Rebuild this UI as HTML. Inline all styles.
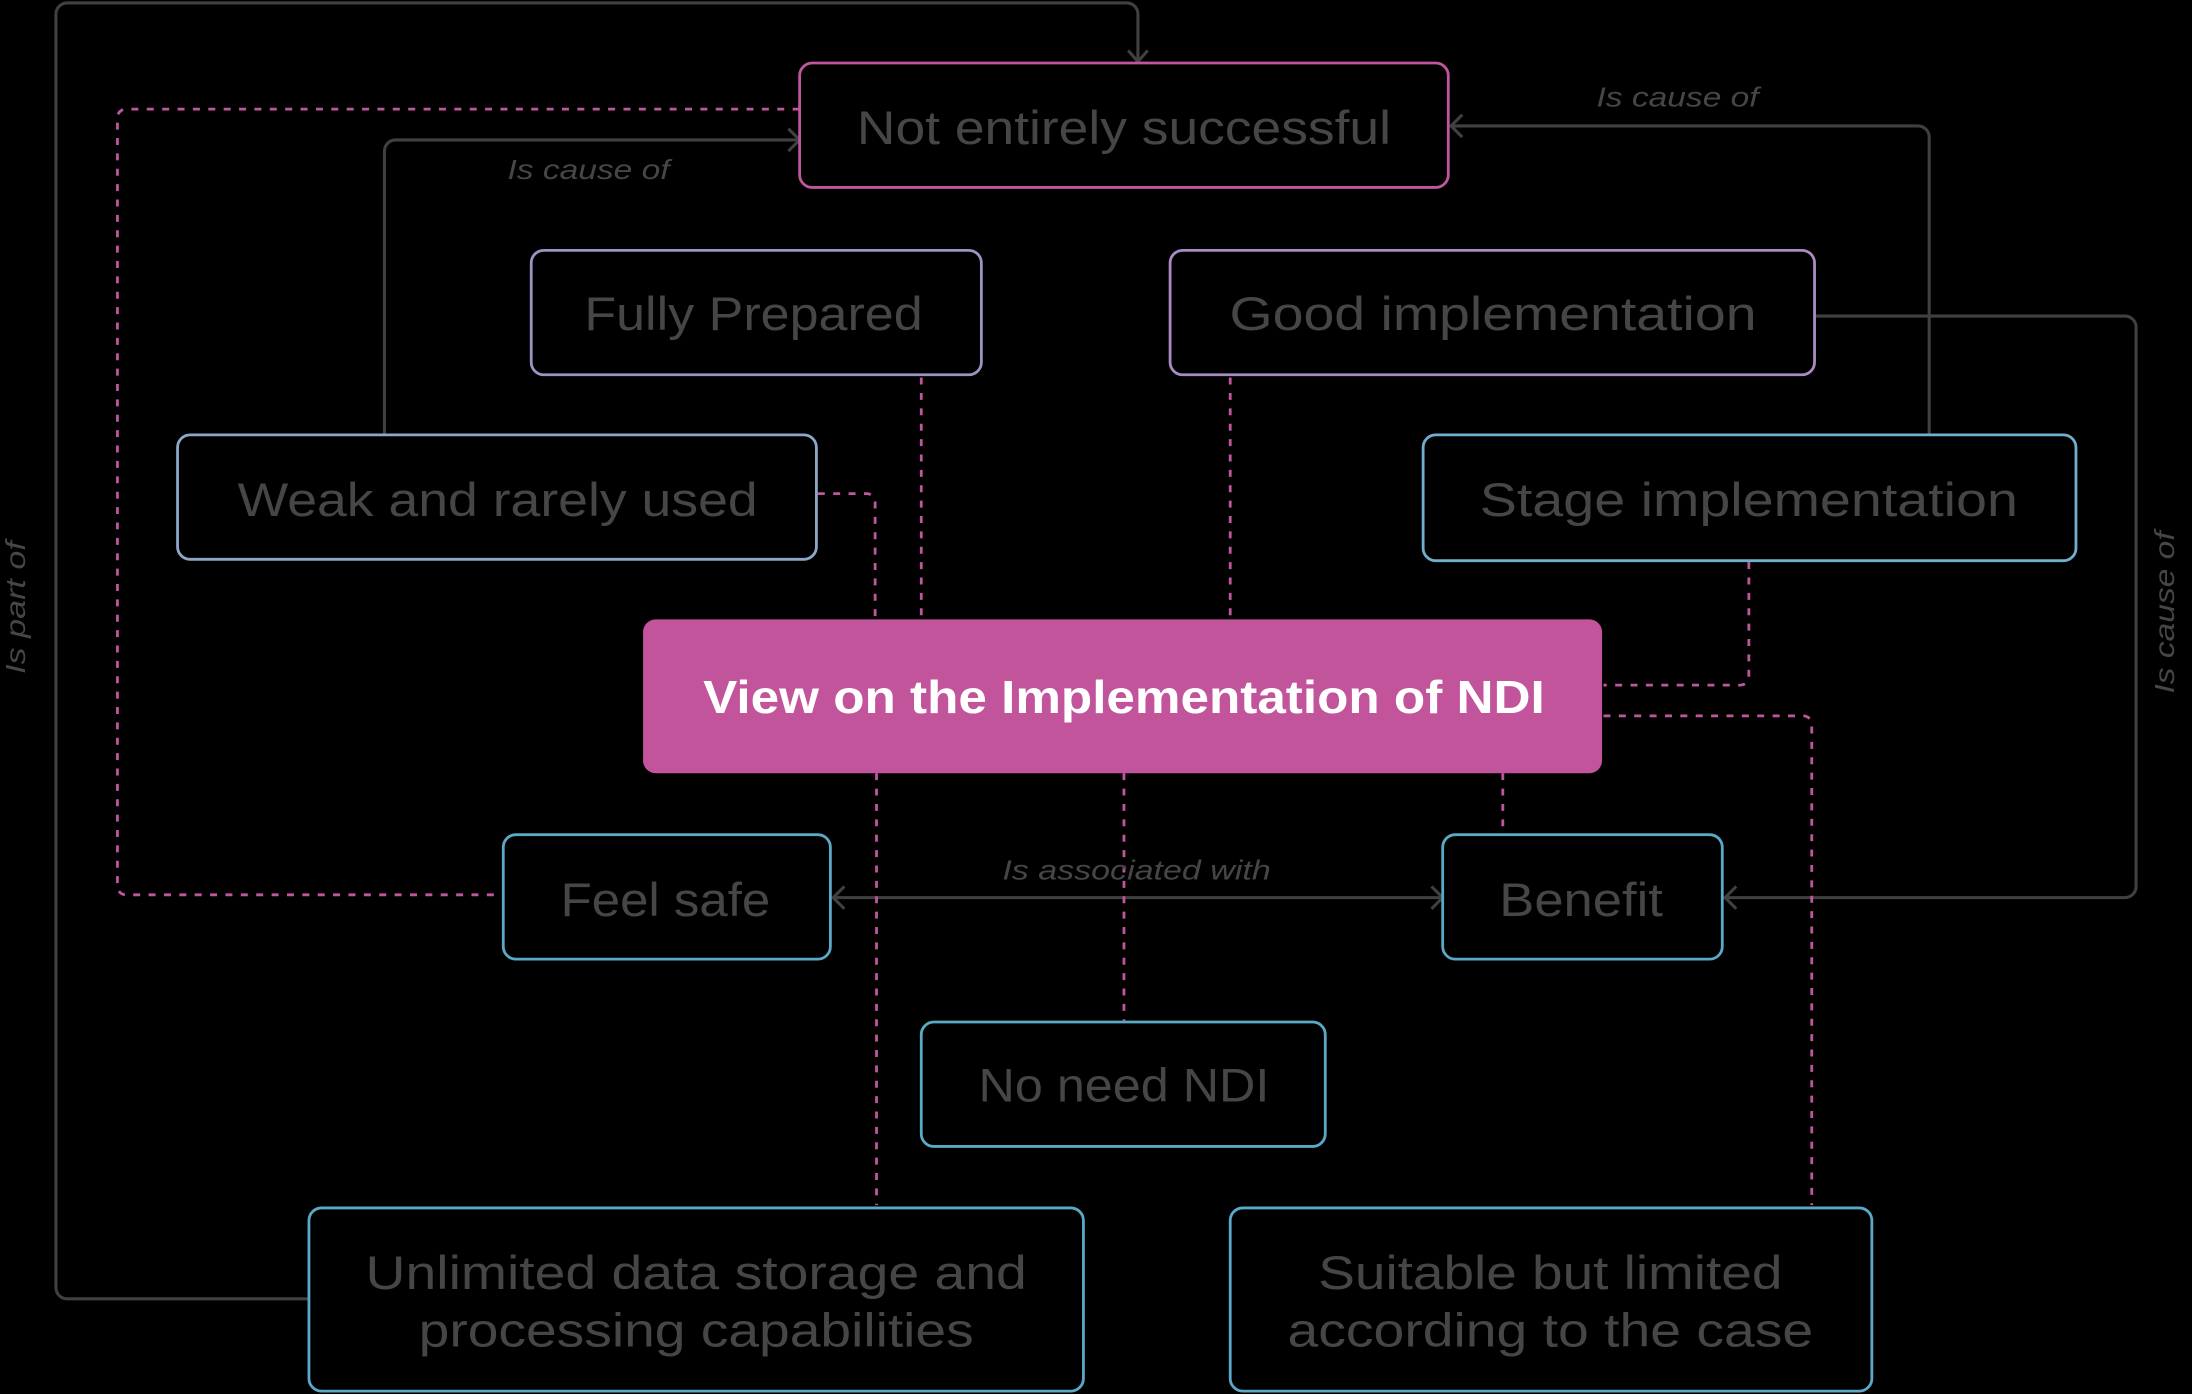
<!DOCTYPE html>
<html><head><meta charset="utf-8"><style>
html,body{margin:0;padding:0;background:#000;}
svg{display:block;}
text{font-family:"Liberation Sans",sans-serif;}
.t{fill:#464646;font-size:34px;text-anchor:middle;}
.l{fill:#464646;font-size:20px;font-style:italic;}
.g{fill:none;stroke:#404040;stroke-width:2.2;}
.d{fill:none;stroke:#c0569e;stroke-width:2;stroke-dasharray:5 6;}
</style></head><body>
<svg width="2192" height="1394" viewBox="0 0 1568 997" xmlns="http://www.w3.org/2000/svg">
<rect width="1568" height="997" fill="#000"/>
<path class="g" d="M221 929 H48 a8 8 0 0 1 -8 -8 V10 a8 8 0 0 1 8 -8 H806 a8 8 0 0 1 8 8 V44"/>
<path class="g" d="M807 36 l7 8 l7 -8"/>
<path class="g" d="M275 311 V108 a8 8 0 0 1 8 -8 H572"/>
<path class="g" d="M564 92 l8 8 l-8 8"/>
<path class="g" d="M1380 311 V98 a8 8 0 0 0 -8 -8 H1038"/>
<path class="g" d="M1046 82 l-8 8 l8 8"/>
<path class="g" d="M1299 226 H1520 a8 8 0 0 1 8 8 V634 a8 8 0 0 1 -8 8 H1234"/>
<path class="g" d="M1242 634 l-8 8 l8 8"/>
<path class="g" d="M596 642 H1032"/>
<path class="g" d="M604 634 l-8 8 l8 8 M1024 634 l8 8 l-8 8"/>
<path class="d" d="M572 78 H90 a6 6 0 0 0 -6 6 V634 a6 6 0 0 0 6 6 H360"/>
<path class="d" d="M585 353 H620 a6 6 0 0 1 6 6 V443"/>
<path class="d" d="M659 270 V443"/>
<path class="d" d="M880 270 V443"/>
<path class="d" d="M1251 402 V484 a6 6 0 0 1 -6 6 H1147"/>
<path class="d" d="M1147 512 H1290 a6 6 0 0 1 6 6 V862"/>
<path class="d" d="M627 553 V862"/>
<path class="d" d="M804 553 V730"/>
<path class="d" d="M1075 553 V597"/>
<text class="l" x="363" y="128" textLength="116" lengthAdjust="spacingAndGlyphs">Is cause of</text>
<text class="l" x="1142" y="76" textLength="116" lengthAdjust="spacingAndGlyphs">Is cause of</text>
<text class="l" x="717" y="629" textLength="192" lengthAdjust="spacingAndGlyphs">Is associated with</text>
<text class="l" transform="translate(18,482) rotate(-90)" textLength="95" lengthAdjust="spacingAndGlyphs">Is part of</text>
<text class="l" transform="translate(1555,496) rotate(-90)" textLength="116" lengthAdjust="spacingAndGlyphs">Is cause of</text>
<rect x="572" y="45" width="464" height="89" rx="9" fill="#000" stroke="#c0569e" stroke-width="2"/>
<text class="t" x="804" y="103" textLength="382" lengthAdjust="spacingAndGlyphs">Not entirely successful</text>
<rect x="380" y="179" width="322" height="89" rx="9" fill="#000" stroke="#9a93c4" stroke-width="2"/>
<text class="t" x="539" y="236" textLength="242" lengthAdjust="spacingAndGlyphs">Fully Prepared</text>
<rect x="837" y="179" width="461" height="89" rx="9" fill="#000" stroke="#a88bc4" stroke-width="2"/>
<text class="t" x="1068" y="236" textLength="377" lengthAdjust="spacingAndGlyphs">Good implementation</text>
<rect x="127" y="311" width="457" height="89" rx="9" fill="#000" stroke="#8ea6c9" stroke-width="2"/>
<text class="t" x="356" y="369" textLength="372" lengthAdjust="spacingAndGlyphs">Weak and rarely used</text>
<rect x="1018" y="311" width="467" height="90" rx="9" fill="#000" stroke="#6fb0cf" stroke-width="2"/>
<text class="t" x="1251" y="369" textLength="385" lengthAdjust="spacingAndGlyphs">Stage implementation</text>
<rect x="460" y="443" width="686" height="110" rx="9" fill="#c2549c"/>
<text x="804" y="510" fill="#fff" font-size="33" font-weight="bold" text-anchor="middle" textLength="602" lengthAdjust="spacingAndGlyphs">View on the Implementation of NDI</text>
<rect x="360" y="597" width="234" height="89" rx="9" fill="#000" stroke="#5aa9c6" stroke-width="2"/>
<text class="t" x="476" y="655" textLength="150" lengthAdjust="spacingAndGlyphs">Feel safe</text>
<rect x="1032" y="597" width="200" height="89" rx="9" fill="#000" stroke="#5aa9c6" stroke-width="2"/>
<text class="t" x="1131" y="655" textLength="117" lengthAdjust="spacingAndGlyphs">Benefit</text>
<rect x="659" y="731" width="289" height="89" rx="9" fill="#000" stroke="#5aa9c6" stroke-width="2"/>
<text class="t" x="804" y="788" textLength="208" lengthAdjust="spacingAndGlyphs">No need NDI</text>
<rect x="221" y="864" width="554" height="131" rx="9" fill="#000" stroke="#5aa9c6" stroke-width="2"/>
<text class="t" x="498" y="922" textLength="473" lengthAdjust="spacingAndGlyphs">Unlimited data storage and</text>
<text class="t" x="498" y="963" textLength="397" lengthAdjust="spacingAndGlyphs">processing capabilities</text>
<rect x="880" y="864" width="459" height="131" rx="9" fill="#000" stroke="#5aa9c6" stroke-width="2"/>
<text class="t" x="1109" y="922" textLength="332" lengthAdjust="spacingAndGlyphs">Suitable but limited</text>
<text class="t" x="1109" y="963" textLength="376" lengthAdjust="spacingAndGlyphs">according to the case</text>
</svg>
</body></html>
